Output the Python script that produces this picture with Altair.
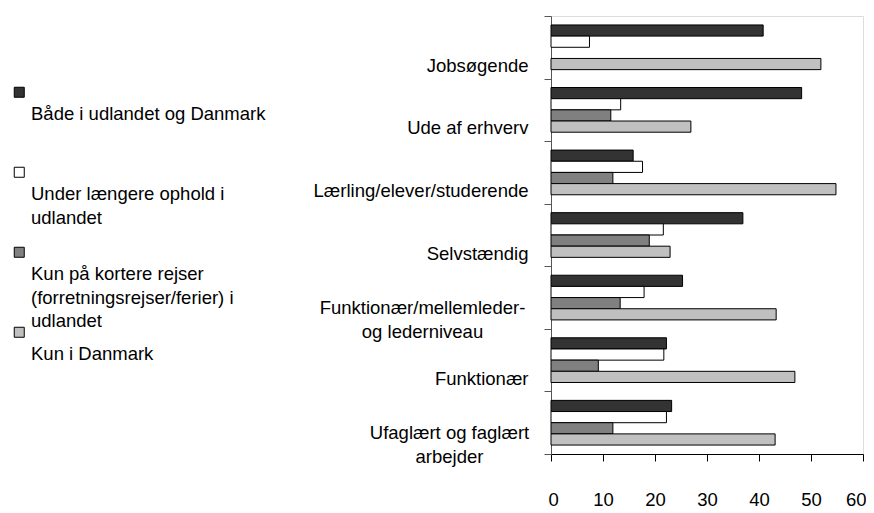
import json
import altair as alt
import pandas as pd

categories = ["Jobsøgende", "Ude af erhverv", "Lærling/elever/studerende", "Selvstændig",
              "Funktionær/mellemleder- og lederniveau", "Funktionær",
              "Ufaglært og faglært arbejder"]
series = ["Både i udlandet og Danmark", "Under længere ophold i udlandet",
          "Kun på kortere rejser (forretningsrejser/ferier) i udlandet", "Kun i Danmark"]
both_values = [40.8, 48.2, 15.8, 36.9, 25.3, 22.2, 23.2]
longer_values = [7.4, 13.4, 17.6, 21.6, 17.9, 21.7, 22.2]
shorter_values = [None, 11.5, 11.9, 18.9, 13.3, 9.1, 11.9]
denmark_values = [51.9, 26.9, 54.8, 22.9, 43.3, 46.9, 43.1]
colors = ["#333333", "#ffffff", "#808080", "#c0c0c0"]
x_ticks = [0, 10, 20, 30, 40, 50, 60]

category_lines = {
    "Funktionær/mellemleder- og lederniveau": ["Funktionær/mellemleder-", "og lederniveau"],
    "Ufaglært og faglært arbejder": ["Ufaglært og faglært", "arbejder"],
}
series_lines = {
    "Under længere ophold i udlandet": ["Under længere ophold i", "udlandet"],
    "Kun på kortere rejser (forretningsrejser/ferier) i udlandet":
        ["Kun på kortere rejser", "(forretningsrejser/ferier) i", "udlandet"],
}
# horizontal label position for centred wrapped labels
centred_padding = {
    "Funktionær/mellemleder- og lederniveau": 122,
    "Ufaglært og faglært arbejder": 95,
}

rows = []
for s, vals in zip(series, [both_values, longer_values, shorter_values, denmark_values]):
    for c, v in zip(categories, vals):
        if v is not None:
            rows.append({"category": c, "series": s, "value": v})
df = pd.DataFrame(rows)


def lines_expr(mapping, field="datum.label"):
    expr = field
    for k, v in mapping.items():
        expr = f"{field} == {json.dumps(k, ensure_ascii=False)} ? {json.dumps(v, ensure_ascii=False)} : ({expr})"
    return expr


def cond(mapping, default):
    return {
        "condition": [{"test": f"datum.value == {json.dumps(k, ensure_ascii=False)}", "value": v}
                      for k, v in mapping.items()],
        "value": default,
    }


FONT = "Liberation Sans"
FS = 18.5

y_axis = alt.Axis(
    title=None,
    tickBand="extent",
    tickSize=7,
    domainColor="#555555",
    tickColor="#555555",
    labelColor="black",
    labelFontSize=FS,
    labelLimit=400,
    labelLineHeight=23.5,
    labelExpr=lines_expr(category_lines),
    labelOffset=cond({k: 10 for k in centred_padding}, 18),
    labelAlign=cond({k: "center" for k in centred_padding}, "right"),
    labelPadding=cond(centred_padding, 16),
)

x_axis = alt.Axis(
    title=None,
    values=x_ticks,
    grid=False,
    tickSize=7,
    labelPadding=29,
    labelFlush=True,
    labelFlushOffset=3,
    labelFontSize=FS,
    labelColor="black",
    domainColor="black",
    tickColor="black",
)

legend = alt.Legend(
    title=None,
    orient="none",
    legendX=-541,
    legendY=80,
    direction="vertical",
    symbolType="M-1,-3.6H1V-1.6H-1Z",
    symbolSize=100,
    symbolStrokeColor="black",
    symbolStrokeWidth=1,
    labelBaseline="top",
    labelOffset=2.5,
    labelFontSize=FS,
    labelColor="black",
    labelLimit=500,
    labelExpr=lines_expr(series_lines),
    gridAlign="all",
    rowPadding=-6,
)

chart = alt.Chart(df).mark_bar(stroke="black", strokeWidth=1).encode(
    x=alt.X("value:Q", scale=alt.Scale(domain=[0, 60], nice=False), axis=x_axis),
    y=alt.Y("category:N", sort=categories,
            scale=alt.Scale(paddingInner=0, paddingOuter=0), axis=y_axis),
    yOffset=alt.YOffset("series:N", sort=series,
                        scale=alt.Scale(paddingInner=0, paddingOuter=0.8)),
    fill=alt.Fill("series:N", sort=series,
                  scale=alt.Scale(domain=series, range=colors), legend=legend),
).properties(
    width=312,
    height=438,
    autosize=alt.AutoSizeParams(type="none"),
    padding={"left": 543, "top": 8, "right": 3, "bottom": 55},
).configure_view(stroke=None).configure(
    font=FONT,
    style={"guide-label": {"lineHeight": 23.5}},
)

chart.save("out.html", embed_options={"renderer": "svg", "actions": False})
